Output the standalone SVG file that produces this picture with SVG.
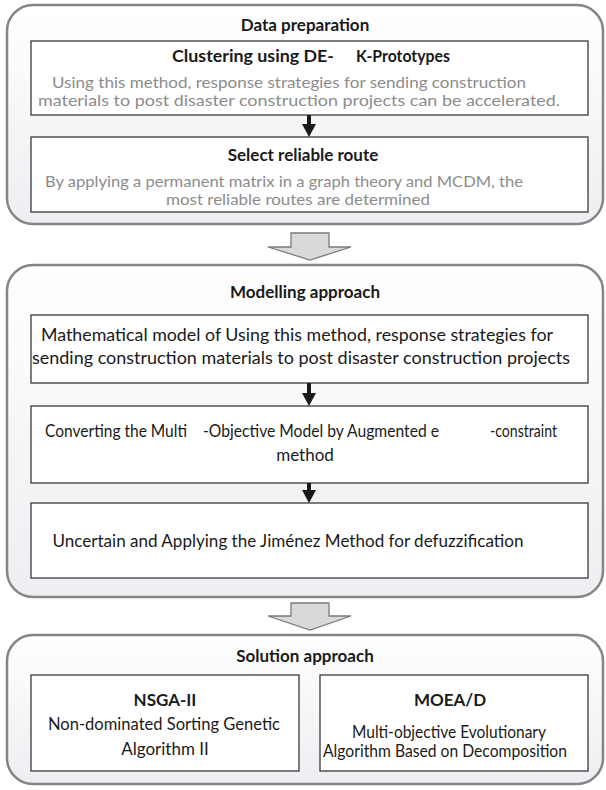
<svg xmlns="http://www.w3.org/2000/svg" width="606" height="790" viewBox="0 0 606 790">
  <defs>
    <linearGradient id="panelFill" x1="0" y1="0" x2="0" y2="1">
      <stop offset="0" stop-color="#ffffff"/>
      <stop offset="1" stop-color="#eceef1"/>
    </linearGradient>
  </defs>
  <style>
    .panel { fill: url(#panelFill); stroke: #858585; stroke-width: 2.5; }
    .box { fill: #ffffff; stroke: #3a3a3a; stroke-width: 1.3; }
    .flow { fill: #d9d9d9; stroke: #7a7a7a; stroke-width: 1.3; }
    .link { stroke: #1a1a1a; stroke-width: 4; fill: none; }
    .head { fill: #1a1a1a; }
    text { font-family: Lato, "Open Sans", "Liberation Sans", sans-serif; text-anchor: middle; }
    .start { text-anchor: start; }
    .title { font-size: 17px; font-weight: bold; fill: #1a1a1a; }
    .body { font-size: 17px; fill: #1a1a1a; }
    .note { font-size: 16px; fill: #8c8c8c; }
  </style>

  <!-- Stage 1: data preparation -->
  <g id="stage-data">
    <rect class="panel" x="7" y="5" width="596" height="219" rx="26"/>
    <text class="title" x="305" y="31">Data preparation</text>
  </g>
  <g id="node-clustering">
    <rect class="box" x="31" y="41" width="557" height="74"/>
    <text class="title start" x="172" y="62" textLength="162" lengthAdjust="spacingAndGlyphs">Clustering using DE-</text>
    <text class="title start" x="356" y="62" textLength="94" lengthAdjust="spacingAndGlyphs">K-Prototypes</text>
    <text class="note" x="289" y="88" textLength="474" lengthAdjust="spacingAndGlyphs">Using this method, response strategies for sending construction</text>
    <text class="note" x="299" y="106" textLength="522" lengthAdjust="spacingAndGlyphs">materials to post disaster construction projects can be accelerated.</text>
  </g>
  <g id="node-route">
    <rect class="box" x="31" y="137" width="557" height="75"/>
    <text class="title" x="303" y="161">Select reliable route</text>
    <text class="note" x="284" y="187" textLength="478" lengthAdjust="spacingAndGlyphs">By applying a permanent matrix in a graph theory and MCDM, the</text>
    <text class="note" x="298" y="205" textLength="264" lengthAdjust="spacingAndGlyphs">most reliable routes are determined</text>
  </g>

  <!-- Stage 2: modelling approach -->
  <g id="stage-model">
    <rect class="panel" x="7" y="265" width="596" height="332" rx="26"/>
    <text class="title" x="305" y="298">Modelling approach</text>
  </g>
  <g id="node-math">
    <rect class="box" x="31" y="315" width="557" height="68"/>
    <text class="body" x="297" y="341" textLength="512" lengthAdjust="spacingAndGlyphs">Mathematical model of Using this method, response strategies for</text>
    <text class="body" x="301" y="364" textLength="538" lengthAdjust="spacingAndGlyphs">sending construction materials to post disaster construction projects</text>
  </g>
  <g id="node-convert">
    <rect class="box" x="31" y="406" width="557" height="77"/>
    <text class="body start" x="45" y="437" textLength="142" lengthAdjust="spacingAndGlyphs">Converting the Multi</text>
    <text class="body start" x="203" y="437" textLength="236" lengthAdjust="spacingAndGlyphs">-Objective Model by Augmented e</text>
    <text class="body start" x="490" y="437" textLength="67" lengthAdjust="spacingAndGlyphs">-constraint</text>
    <text class="body" x="305" y="461">method</text>
  </g>
  <g id="node-fuzzy">
    <rect class="box" x="31" y="503" width="557" height="75"/>
    <text class="body" x="288" y="547" textLength="471" lengthAdjust="spacingAndGlyphs">Uncertain and Applying the Jiménez Method for defuzzification</text>
  </g>

  <!-- Stage 3: solution approach -->
  <g id="stage-solve">
    <rect class="panel" x="7" y="635" width="596" height="149" rx="26"/>
    <text class="title" x="305" y="662">Solution approach</text>
  </g>
  <g id="node-nsga">
    <rect class="box" x="31" y="675" width="268" height="96"/>
    <text class="title" x="165" y="706">NSGA-II</text>
    <text class="body" x="164" y="730" textLength="232" lengthAdjust="spacingAndGlyphs">Non-dominated Sorting Genetic</text>
    <text class="body" x="165" y="755">Algorithm II</text>
  </g>
  <g id="node-moea">
    <rect class="box" x="320" y="675" width="268" height="96"/>
    <text class="title" x="450" y="706">MOEA/D</text>
    <text class="body" x="449" y="738" textLength="194" lengthAdjust="spacingAndGlyphs">Multi-objective Evolutionary</text>
    <text class="body" x="445" y="757" textLength="244" lengthAdjust="spacingAndGlyphs">Algorithm Based on Decomposition</text>
  </g>

  <!-- Connectors -->
  <g id="connectors">
    <line class="link" x1="309" y1="115" x2="309" y2="125"/>
    <path class="head" d="M302,124 L316,124 L309,137 Z"/>
    <line class="link" x1="309" y1="383" x2="309" y2="394"/>
    <path class="head" d="M302,393 L316,393 L309,406 Z"/>
    <line class="link" x1="309" y1="483" x2="309" y2="491"/>
    <path class="head" d="M302,490 L316,490 L309,503 Z"/>
    <path class="flow" d="M291,233 L329,233 L329,247 L351,247 L310,260 L268,247 L291,247 Z"/>
    <path class="flow" d="M291,603 L329,603 L329,616 L351,616 L310,630 L268,616 L291,616 Z"/>
  </g>
</svg>
